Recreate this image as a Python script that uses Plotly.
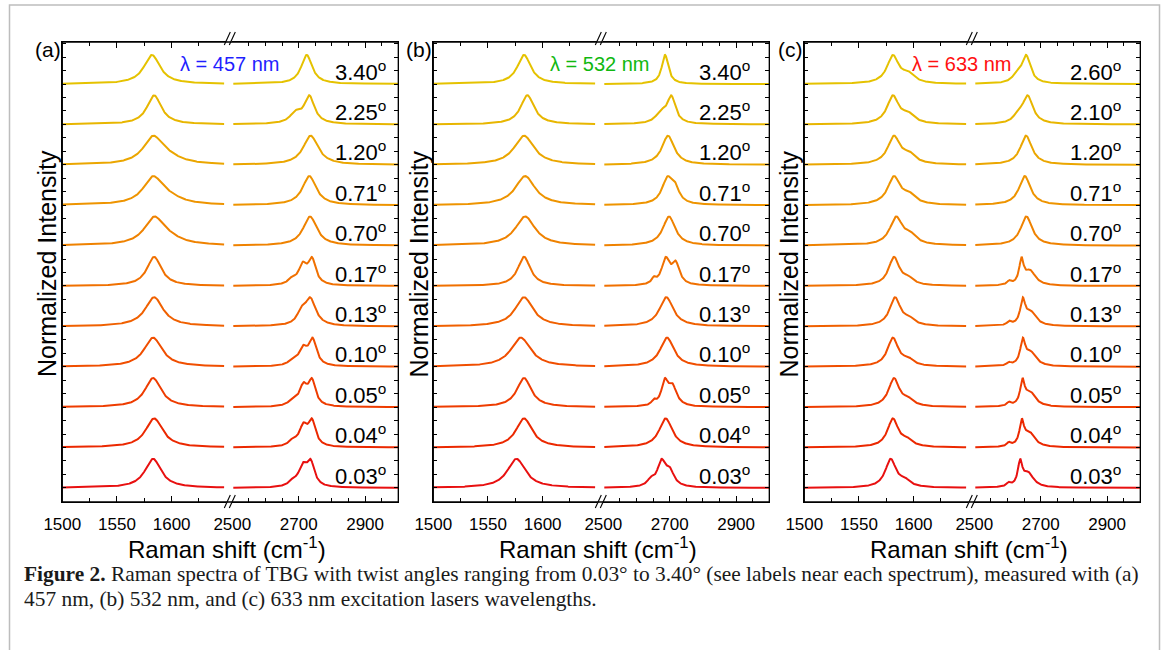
import numpy as np
import plotly.graph_objects as go

W, H = 1168, 650

# ---------------- data ----------------
angles_a = ["3.40", "2.25", "1.20", "0.71", "0.70", "0.17", "0.13", "0.10", "0.05", "0.04", "0.03"]
angles_b = ["3.40", "2.25", "1.20", "0.71", "0.70", "0.17", "0.13", "0.10", "0.05", "0.04", "0.03"]
angles_c = ["2.60", "2.10", "1.20", "0.71", "0.70", "0.17", "0.13", "0.10", "0.05", "0.04", "0.03"]

wavelengths = ["457", "532", "633"]
panel_tags = ["(a)", "(b)", "(c)"]

# band components: (centre cm-1, FWHM cm-1, relative amplitude), top spectrum first
g_a = [
    [(1582, 18, 1.0)],
    [(1584, 16, 1.0)],
    [(1583, 22, 1.0), (1597, 30, 0.2)],
    [(1583, 22, 1.0), (1597, 30, 0.2)],
    [(1584, 22, 1.0), (1597, 30, 0.2)],
    [(1584, 16, 1.0)],
    [(1584, 20, 1.0)],
    [(1583, 20, 1.0)],
    [(1583, 18, 1.0)],
    [(1584, 19, 1.0)],
    [(1583, 18, 1.0)],
]
d_a = [
    [(2724, 40, 1.0)],
    [(2732, 38, 1.0), (2690, 40, 0.35)],
    [(2736, 55, 1.0)],
    [(2732, 50, 1.0)],
    [(2734, 50, 1.0)],
    [(2740, 28, 1.0), (2712, 30, 0.75), (2680, 30, 0.2)],
    [(2735, 40, 1.0), (2708, 30, 0.4)],
    [(2742, 28, 1.0), (2713, 32, 0.65), (2680, 30, 0.15)],
    [(2740, 26, 1.0), (2714, 30, 0.8), (2682, 30, 0.2)],
    [(2740, 27, 1.0), (2714, 30, 0.8), (2682, 30, 0.2)],
    [(2736, 28, 1.0), (2712, 30, 0.8), (2682, 30, 0.2)],
]
g_b = [
    [(1583, 15, 1.0)],
    [(1586, 15, 1.0)],
    [(1583, 22, 1.0)],
    [(1584, 22, 1.0)],
    [(1584, 22, 1.0)],
    [(1583, 14, 1.0)],
    [(1583, 20, 1.0)],
    [(1580, 22, 1.0)],
    [(1583, 16, 1.0)],
    [(1583, 18, 1.0)],
    [(1576, 20, 1.0)],
]
d_b = [
    [(2686, 24, 1.0)],
    [(2705, 30, 1.0), (2675, 40, 0.4)],
    [(2695, 45, 1.0)],
    [(2693, 40, 1.0), (2716, 30, 0.5)],
    [(2698, 45, 1.0)],
    [(2652, 15, 0.2), (2688, 30, 1.0), (2718, 28, 0.8)],
    [(2690, 50, 1.0)],
    [(2692, 50, 1.0)],
    [(2652, 15, 0.2), (2685, 24, 1.0), (2708, 32, 0.85)],
    [(2688, 48, 1.0)],
    [(2643, 25, 0.25), (2675, 30, 1.0), (2700, 32, 0.6)],
]
g_c = [
    [(1581, 13, 1.0), (1595, 14, 0.3)],
    [(1581, 13, 1.0), (1595, 14, 0.3)],
    [(1582, 14, 1.0), (1596, 14, 0.3)],
    [(1582, 14, 1.0), (1596, 14, 0.3)],
    [(1584, 14, 1.0), (1597, 14, 0.3)],
    [(1582, 12, 1.0), (1595, 12, 0.2)],
    [(1583, 12, 1.0), (1596, 12, 0.2)],
    [(1581, 12, 1.0), (1595, 12, 0.2)],
    [(1582, 12, 1.0), (1595, 12, 0.2)],
    [(1581, 12, 1.0), (1594, 12, 0.2)],
    [(1579, 12, 1.0), (1592, 12, 0.2)],
]
d_c = [
    [(2656, 32, 1.0), (2628, 30, 0.25)],
    [(2661, 38, 1.0), (2632, 30, 0.25)],
    [(2656, 42, 1.0)],
    [(2652, 42, 1.0)],
    [(2657, 42, 1.0)],
    [(2605, 14, 0.15), (2642, 16, 1.0), (2668, 40, 0.6)],
    [(2605, 14, 0.15), (2646, 18, 1.0), (2670, 40, 0.55)],
    [(2604, 14, 0.12), (2646, 18, 1.0), (2670, 40, 0.55)],
    [(2604, 14, 0.15), (2645, 16, 1.0), (2668, 40, 0.6)],
    [(2604, 14, 0.15), (2643, 16, 1.0), (2666, 40, 0.6)],
    [(2603, 14, 0.15), (2638, 16, 1.0), (2662, 40, 0.6)],
]

curve_colors = ["#E5C200", "#E8B600", "#EBA600", "#EE9400", "#EF8200", "#F07000",
                "#F06000", "#F04E00", "#EE3C00", "#EB2800", "#E81010"]
lambda_colors = ["#1F1FFF", "#10B810", "#FF1010"]

left_ticks = [1500, 1550, 1600]
left_minor = [1525, 1575, 1625]
right_ticks = [2500, 2700, 2900]
right_minor = [2550, 2600, 2650, 2750, 2800, 2850, 2950]

# ---------------- helpers ----------------
def fx(px):
    return px / W

def fy(py):
    return 1 - py / H

def band(x, comps):
    y = np.zeros_like(x)
    for c, w, a in comps:
        y += a / (1 + ((x - c) / (w / 2)) ** 2)
    return y / y.max()

PEAK = 0.72
x_left = np.linspace(1500, 1648, 400)
x_right = np.linspace(2503, 3000, 500)

panels = [
    (angles_a, g_a, d_a),
    (angles_b, g_b, d_b),
    (angles_c, g_c, d_c),
]
lefts = [62.3, 433.3, 804.3]
PW = 336
LSEG = 164
RSTART = 170
YTOP, YBOT = 42, 502
YR = [-0.35, 11.04]
label_right = [388.3, 751.7, 1122.7]
lam_x = [230, 600, 962]
ytitle_x = [47, 418.5, 788.5]

fig = go.Figure()
layout = dict(
    width=W, height=H, margin=dict(l=0, r=0, t=0, b=0, pad=0, autoexpand=False),
    paper_bgcolor="white", plot_bgcolor="rgba(0,0,0,0)",
    showlegend=False, font=dict(family="Liberation Sans, Arial", color="black"),
)
shapes = []
annotations = []

for p, (angles, gs, ds) in enumerate(panels):
    xl, xr = 2 * p + 1, 2 * p + 2
    L = lefts[p]
    n = len(angles)
    for i in range(n):
        off = n - 1 - i
        col = curve_colors[i]
        fig.add_trace(go.Scatter(
            x=x_left, y=off + PEAK * band(x_left, gs[i]), mode="lines",
            line=dict(color=col, width=2), xaxis=f"x{xl}", yaxis=f"y{xl}",
            hoverinfo="skip"))
        fig.add_trace(go.Scatter(
            x=x_right, y=off + PEAK * band(x_right, ds[i]), mode="lines",
            line=dict(color=col, width=2), xaxis=f"x{xr}", yaxis=f"y{xr}",
            hoverinfo="skip"))
        annotations.append(dict(
            text=f"{angles[i]}<sup>o</sup>", xref="paper", yref=f"y{xr}",
            x=fx(label_right[p]), y=off + 0.33, xanchor="right", yanchor="middle",
            showarrow=False, font=dict(size=22, color="black")))

    common_x = dict(ticks="inside", ticklen=6, tickwidth=1.2, tickcolor="black",
                    mirror="ticks", showline=True, linecolor="black", linewidth=1.3,
                    showgrid=False, zeroline=False, tickfont=dict(size=17),
                    ticklabelstandoff=6, automargin=False)
    layout[f"xaxis{xl}"] = dict(
        domain=[fx(L), fx(L + LSEG)], range=[1500, 1650], anchor=f"y{xl}",
        tickvals=left_ticks,
        minor=dict(tickvals=left_minor, ticks="inside", ticklen=4, tickcolor="black"),
        **common_x)
    layout[f"xaxis{xr}"] = dict(
        domain=[fx(L + RSTART), fx(L + PW)], range=[2500, 3000], anchor=f"y{xr}",
        tickvals=right_ticks,
        minor=dict(tickvals=right_minor, ticks="inside", ticklen=4, tickcolor="black"),
        **common_x)
    common_y = dict(domain=[fy(YBOT), fy(YTOP)], range=YR, ticks="inside", ticklen=4,
                    tickwidth=1.2, tickcolor="black", tick0=0, dtick=1 / 3,
                    showticklabels=False, showline=True, linecolor="black",
                    linewidth=1.3, showgrid=False, zeroline=False, automargin=False)
    layout[f"yaxis{xl}"] = dict(anchor=f"x{xl}", side="left", **common_y)
    layout[f"yaxis{xr}"] = dict(anchor=f"x{xr}", side="right", **common_y)

    # frame
    shapes.append(dict(type="rect", xref="paper", yref="paper",
                       x0=fx(L), x1=fx(L + PW), y0=fy(YBOT), y1=fy(YTOP),
                       line=dict(color="black", width=1.3)))
    # axis break marks
    bx = L + 162
    for (ya, yb) in [(YTOP + 3, YTOP - 10), (YBOT + 6, YBOT - 7)]:
        for dx in (0, 5):
            shapes.append(dict(type="line", xref="paper", yref="paper",
                               x0=fx(bx + dx), y0=fy(ya), x1=fx(bx + dx + 6), y1=fy(yb),
                               line=dict(color="black", width=1.1)))

    annotations.append(dict(text=panel_tags[p], xref="paper", yref="paper",
                            x=fx(L - 14), y=fy(50), xanchor="center", yanchor="middle",
                            showarrow=False, font=dict(size=21)))
    annotations.append(dict(text=f"λ = {wavelengths[p]} nm", xref="paper", yref="paper",
                            x=fx(lam_x[p]), y=fy(63.5), xanchor="center", yanchor="middle",
                            showarrow=False, font=dict(size=20, color=lambda_colors[p])))
    annotations.append(dict(text="Raman shift (cm<sup>-1</sup>)", xref="paper", yref="paper",
                            x=fx(L + PW / 2 - 3), y=fy(548), xanchor="center", yanchor="middle",
                            showarrow=False, font=dict(size=24)))
    annotations.append(dict(text="Normalized Intensity", xref="paper", yref="paper",
                            x=fx(ytitle_x[p]), y=fy(264), xanchor="center", yanchor="middle",
                            textangle=-90, showarrow=False, font=dict(size=25)))

# outer border
shapes.append(dict(type="rect", xref="paper", yref="paper", x0=fx(9.5), x1=fx(1159.5),
                   y0=fy(662), y1=fy(5), line=dict(color="#BDBDBD", width=1.5)))

cap_font = dict(family="Liberation Serif, Times New Roman, serif", size=21.4, color="#1a1a1a")
annotations.append(dict(
    text="<b>Figure 2.</b> Raman spectra of TBG with twist angles ranging from 0.03° to 3.40° "
         "(see labels near each spectrum), measured with (a)",
    xref="paper", yref="paper", x=fx(22), y=fy(574), xanchor="left", yanchor="middle",
    showarrow=False, font=cap_font))
annotations.append(dict(
    text="457 nm, (b) 532 nm, and (c) 633 nm excitation lasers wavelengths.",
    xref="paper", yref="paper", x=fx(22), y=fy(599), xanchor="left", yanchor="middle",
    showarrow=False, font=cap_font))

layout["shapes"] = shapes
layout["annotations"] = annotations
fig.update_layout(**layout)
fig.write_html("out.html", config={"displayModeBar": False},
               post_script="document.body.style.margin='0px';")
